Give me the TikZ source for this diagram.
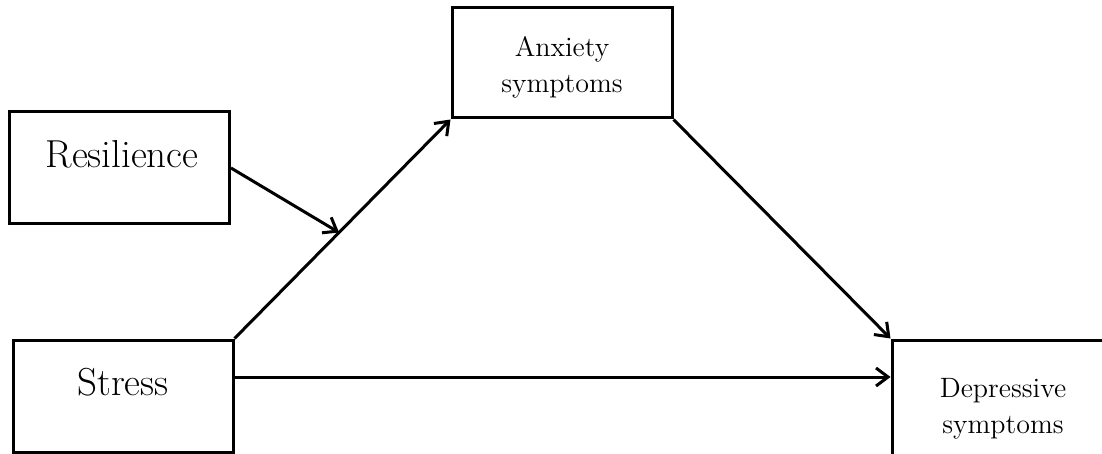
\documentclass[tikz,border=0pt]{standalone}
\usetikzlibrary{arrows.meta}
\tikzset{
  varbox/.style={draw, line width=1.5pt, minimum width=110pt, minimum height=56pt, inner sep=0pt},
  bigtext/.style={anchor=base, inner sep=0pt, font=\fontsize{19.5}{23}\selectfont},
  smalltext/.style={anchor=base, inner sep=0pt, font=\fontsize{14}{17}\selectfont},
  link/.style={draw, line width=1.5pt, -{Straight Barb[length=6pt,width=9pt]}}
}
\begin{document}
\begin{tikzpicture}[x=0.5pt,y=-0.5pt]
\useasboundingbox (0,0) rectangle (1102,454);
% boxes
\node[varbox, minimum height=55pt] (anx) at (562,63) {};
\node[varbox] (res) at (119.5,168) {};
\node[varbox] (stress) at (123,396) {};
\node[varbox, minimum height=60pt] (dep) at (1002,400) {};
% labels
\node[bigtext] (restxt) at (122,168) {Resilience};
\node[bigtext] (stresstxt) at (123,395) {Stress};
\node[smalltext] (anxtop) at (562,57) {Anxiety};
\node[smalltext] (anxbot) at (562,93) {symptoms};
\node[smalltext] (deptop) at (1003,397) {Depressive};
\node[smalltext] (depbot) at (1003,433) {symptoms};
% paths
\draw[link] (stress.north east) -- coordinate[pos=0.484] (mod) (anx.south west);
\draw[link] (res.east) -- (mod);
\draw[link] (anx.south east) -- (dep.north west);
\coordinate (sout) at ([yshift=9.5pt]stress.east);
\draw[link] (sout) -- (sout -| dep.west);
\end{tikzpicture}
\end{document}
